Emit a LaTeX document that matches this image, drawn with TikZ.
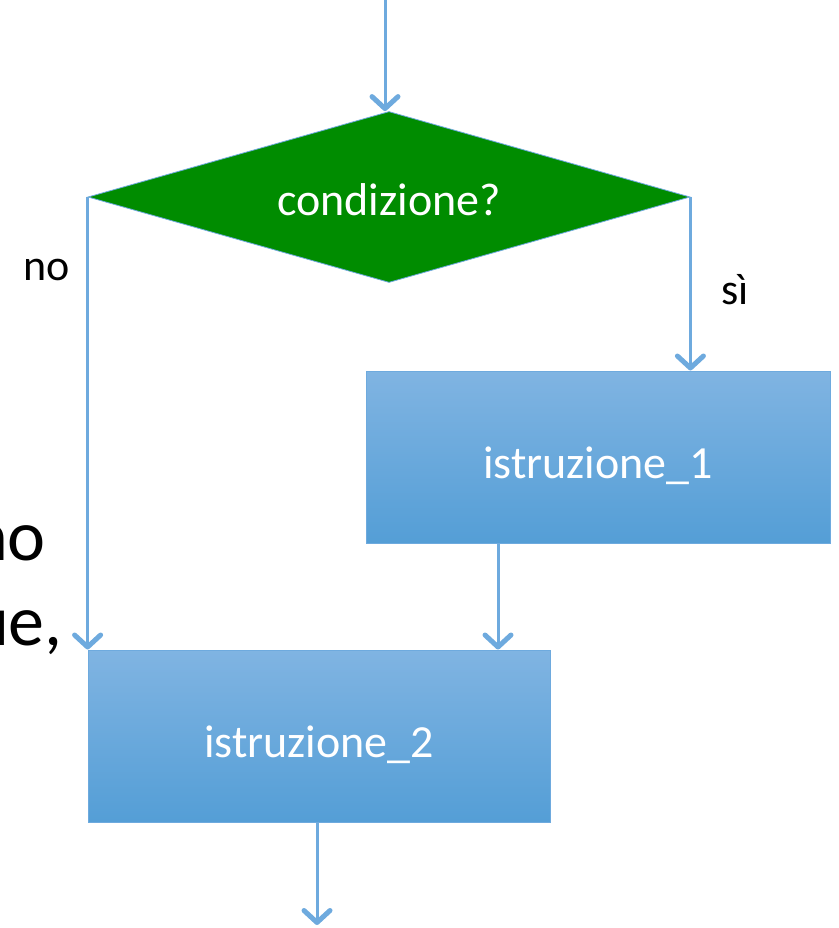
\documentclass[tikz,border=0pt]{standalone}
\usepackage{fontspec}
\setmainfont{Carlito}
\usetikzlibrary{shapes.geometric,arrows.meta}

\definecolor{verdecond}{RGB}{0,140,0}
\definecolor{bluetop}{RGB}{128,180,226}
\definecolor{bluebot}{RGB}{84,158,214}
\definecolor{blueline}{RGB}{110,170,222}

\tikzstyle{decisione} = [diamond, aspect=3.52, fill=verdecond, draw=blueline, line width=0.8pt,
    minimum width=602pt, minimum height=171pt, inner sep=0pt, text=white,
    text height=40pt, text depth=3pt, font=\fontsize{46}{50}\selectfont]
\tikzstyle{istruzione} = [rectangle, top color=bluetop, bottom color=bluebot,
    draw=blueline, line width=1pt, minimum height=172pt, inner sep=0pt,
    text=white, text height=48pt, text depth=5pt, font=\fontsize{46}{50}\selectfont]
\tikzstyle{etichetta} = [font=\fontsize{44}{48}\selectfont]
\tikzstyle{freccia} = [draw=blueline, line width=3pt,
    -{Straight Barb[length=12pt,width=26pt,line width=5pt,line cap=round,round]}]

\begin{document}
\begin{tikzpicture}[x=1pt, y=-1pt]
\useasboundingbox (0,0) rectangle (838,928);
\clip (0,0) rectangle (838,928);

% testo della slide sullo sfondo
\node[anchor=base east, inner sep=0pt, font=\fontsize{72}{80}\selectfont] (sfondo1) at (46,560) {no};
\node[anchor=base east, inner sep=0pt, font=\fontsize{72}{80}\selectfont] (sfondo2) at (63,645) {ue,};

% blocchi
\node[decisione] (cond) at (389,197) {condizione?};
\node[istruzione, minimum width=464pt] (istr1) at (598,457) {istruzione\_1};
\node[istruzione, minimum width=462pt] (istr2) at (319,736) {istruzione\_2};

\coordinate (ingresso) at (385,0);
\coordinate (uscita) at (317,925);
\coordinate (da1) at (498,543);

% frecce
\draw[freccia] (ingresso) -- (ingresso |- cond.north);
\draw[freccia] (cond.west) -- (cond.west |- istr2.north);
\draw[freccia] (cond.east) -- (cond.east |- istr1.north);
\draw[freccia] (da1) -- (da1 |- istr2.north);
\draw[freccia] (istr2.south -| uscita) -- (uscita);

% etichette
\node[etichetta] (no) at (47,270) {no};
\node[etichetta] (si) at (735,290) {sì};
\end{tikzpicture}
\end{document}
